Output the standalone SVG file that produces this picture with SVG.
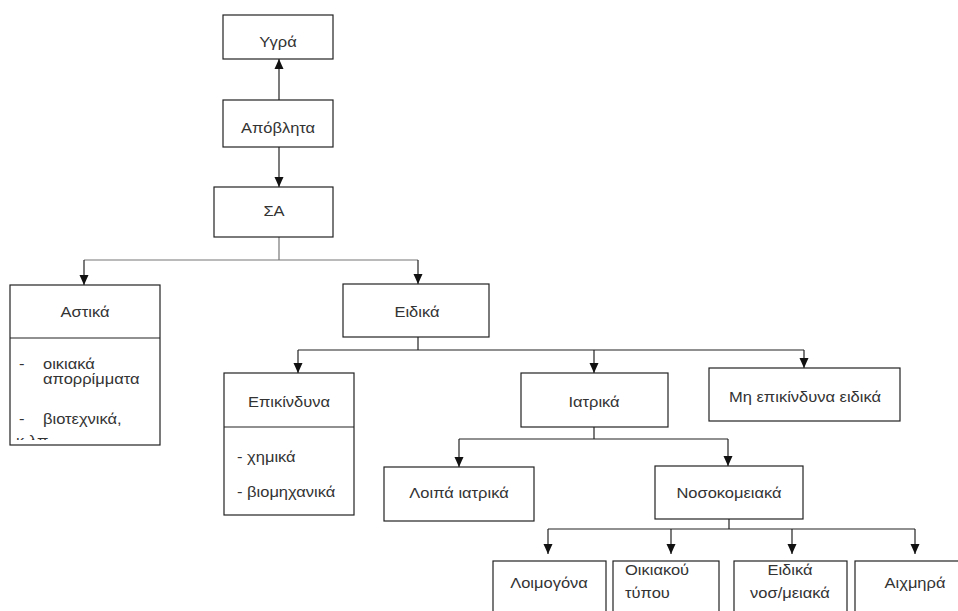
<svg xmlns="http://www.w3.org/2000/svg" width="958" height="611" viewBox="0 0 958 611">
  <defs>
    <marker id="head" markerUnits="userSpaceOnUse" markerWidth="10" markerHeight="11" refX="10" refY="5" orient="auto" viewBox="0 0 10 10">
      <path d="M0,0.5 L10,5 L0,9.5 Z" fill="#111"/>
    </marker>
    <clipPath id="clipAstika">
      <rect x="10" y="338" width="150" height="102"/>
    </clipPath>
  </defs>
  <style>
    .box { fill: #fff; stroke: #222; stroke-width: 1.2; }
    .t { font-family: "Liberation Sans", Arial, sans-serif; font-size: 15px; fill: #333; }
    .c { text-anchor: middle; }
    .ln { fill: none; stroke: #222; stroke-width: 1.2; }
    .lg { fill: none; stroke: #777; stroke-width: 1.2; }
  </style>
  <rect width="958" height="611" fill="#fff"/>

  <!-- connectors -->
  <g id="connectors">
    <line class="ln" x1="279" y1="100" x2="279" y2="59" marker-end="url(#head)"/>
    <line class="ln" x1="279" y1="147" x2="279" y2="187" marker-end="url(#head)"/>
    <polyline class="lg" points="279,237 279,260"/>
    <polyline class="lg" points="84,260 418,260"/>
    <line class="ln" x1="84" y1="260" x2="84" y2="285" marker-end="url(#head)"/>
    <line class="ln" x1="418" y1="260" x2="418" y2="284" marker-end="url(#head)"/>

    <polyline class="ln" points="418,337 418,350"/>
    <polyline class="ln" points="298,350 804,350"/>
    <line class="ln" x1="298" y1="350" x2="298" y2="373" marker-end="url(#head)"/>
    <line class="ln" x1="594" y1="350" x2="594" y2="373" marker-end="url(#head)"/>
    <line class="ln" x1="804" y1="350" x2="804" y2="368" marker-end="url(#head)"/>

    <polyline class="ln" points="594,427 594,439"/>
    <polyline class="ln" points="459,439 728,439"/>
    <line class="ln" x1="459" y1="439" x2="459" y2="467" marker-end="url(#head)"/>
    <line class="ln" x1="728" y1="439" x2="728" y2="466" marker-end="url(#head)"/>

    <polyline class="ln" points="729,519 729,529"/>
    <polyline class="ln" points="548,529 915,529"/>
    <line class="ln" x1="548" y1="529" x2="548" y2="554" marker-end="url(#head)"/>
    <line class="ln" x1="671" y1="529" x2="671" y2="554" marker-end="url(#head)"/>
    <line class="ln" x1="792" y1="529" x2="792" y2="554" marker-end="url(#head)"/>
    <line class="ln" x1="915" y1="529" x2="915" y2="554" marker-end="url(#head)"/>
  </g>

  <!-- nodes (labels are set slightly wide with a horizontal scale) -->
  <g id="ygra">
    <rect class="box" x="223" y="15" width="110" height="44"/>
    <text class="t c" transform="translate(278 47) scale(1.1 1)">Υγρά</text>
  </g>
  <g id="apovlita">
    <rect class="box" x="223" y="100" width="110" height="47"/>
    <text class="t c" transform="translate(278 133) scale(1.1 1)">Απόβλητα</text>
  </g>
  <g id="sa">
    <rect class="box" x="214" y="187" width="119" height="50"/>
    <text class="t c" transform="translate(274 216) scale(1.1 1)">ΣΑ</text>
  </g>
  <g id="astika">
    <rect class="box" x="10" y="285" width="150" height="160"/>
    <line class="ln" x1="10" y1="338" x2="160" y2="338"/>
    <text class="t c" transform="translate(85 317) scale(1.1 1)">Αστικά</text>
    <g clip-path="url(#clipAstika)">
      <text class="t" transform="translate(19 369) scale(1.1 1)">-</text>
      <text class="t" transform="translate(43 369) scale(1.1 1)">οικιακά</text>
      <text class="t" transform="translate(43 384) scale(1.1 1)">απορρίμματα</text>
      <text class="t" transform="translate(19 424) scale(1.1 1)">-</text>
      <text class="t" transform="translate(43 424) scale(1.1 1)">βιοτεχνικά,</text>
      <text class="t" transform="translate(16 446) scale(1.1 1)">κ.λπ.</text>
    </g>
  </g>
  <g id="eidika">
    <rect class="box" x="343" y="284" width="146" height="53"/>
    <text class="t c" transform="translate(417 317) scale(1.1 1)">Ειδικά</text>
  </g>
  <g id="epikindyna">
    <rect class="box" x="224" y="373" width="130" height="142"/>
    <line class="ln" x1="224" y1="427" x2="354" y2="427"/>
    <text class="t c" transform="translate(289 407) scale(1.1 1)">Επικίνδυνα</text>
    <text class="t" transform="translate(237 462) scale(1.1 1)">- χημικά</text>
    <text class="t" transform="translate(237 497) scale(1.1 1)">- βιομηχανικά</text>
  </g>
  <g id="iatrika">
    <rect class="box" x="521" y="373" width="147" height="54"/>
    <text class="t c" transform="translate(594 407) scale(1.1 1)">Ιατρικά</text>
  </g>
  <g id="mi-epikindyna">
    <rect class="box" x="709" y="368" width="191" height="53"/>
    <text class="t c" transform="translate(805 402) scale(1.1 1)">Μη επικίνδυνα ειδικά</text>
  </g>
  <g id="loipa-iatrika">
    <rect class="box" x="384" y="467" width="150" height="54"/>
    <text class="t c" transform="translate(459 498) scale(1.1 1)">Λοιπά ιατρικά</text>
  </g>
  <g id="nosokomeiaka">
    <rect class="box" x="655" y="466" width="148" height="53"/>
    <text class="t c" transform="translate(729 498) scale(1.1 1)">Νοσοκομειακά</text>
  </g>
  <g id="loimogona">
    <rect class="box" x="493" y="561" width="113" height="60"/>
    <text class="t c" transform="translate(549 588) scale(1.1 1)">Λοιμογόνα</text>
  </g>
  <g id="oikiakou">
    <rect class="box" x="613" y="561" width="106" height="60"/>
    <text class="t" transform="translate(625 575) scale(1.1 1)">Οικιακού</text>
    <text class="t" transform="translate(625 598) scale(1.1 1)">τύπου</text>
  </g>
  <g id="eidika-nosokomeiaka">
    <rect class="box" x="734" y="561" width="113" height="60"/>
    <text class="t c" transform="translate(790 575) scale(1.1 1)">Ειδικά</text>
    <text class="t c" transform="translate(790 598) scale(1.1 1)">νοσ/μειακά</text>
  </g>
  <g id="aixmira">
    <rect class="box" x="855" y="561" width="120" height="60"/>
    <text class="t c" transform="translate(915 588) scale(1.1 1)">Αιχμηρά</text>
  </g>
</svg>
